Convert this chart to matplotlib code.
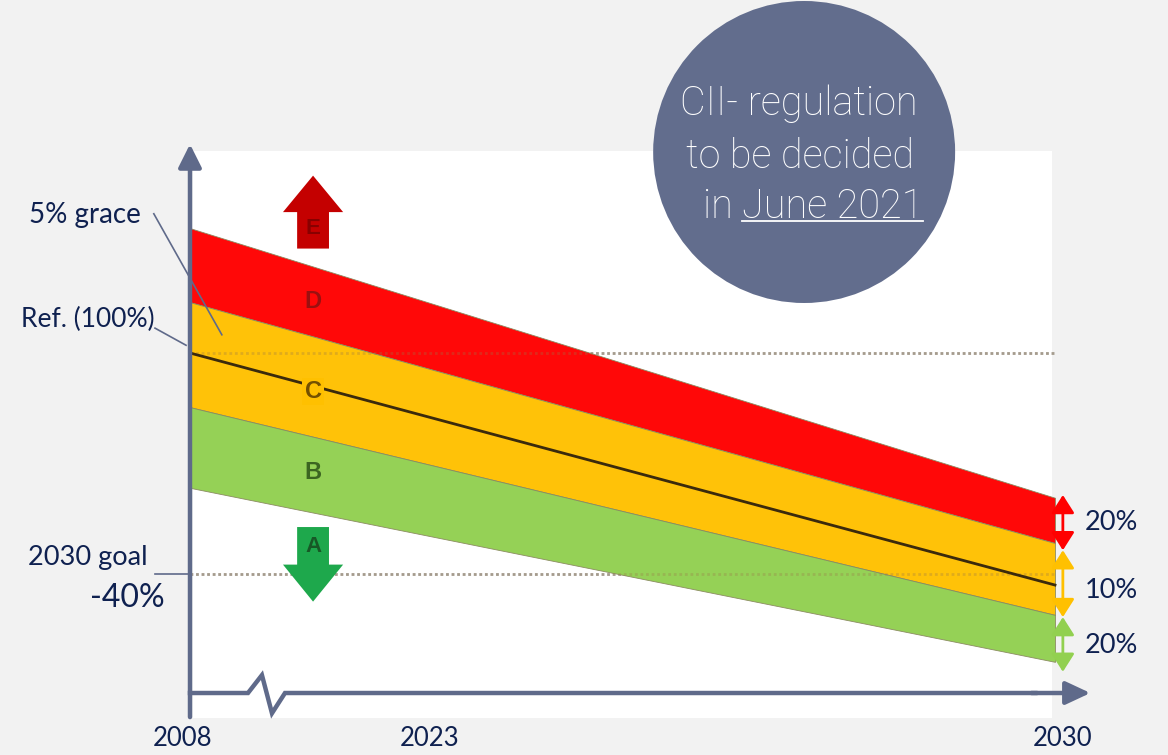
import matplotlib.pyplot as plt
from matplotlib.patches import Ellipse, Rectangle

# schematic x: years after 2008, with a break on the axis before 2023
x_ends = [0.0, 22.0]
tick_labels = ['2008', '2023', '2030']
tick_pos = [-0.2, 6.1, 22.2]

# band limits in % of the reference line, at 2008 and at 2030
band_letters = ['D', 'C', 'B']
band_upper = [[122.6, 73.8], [109.2, 65.6], [90.2, 52.6]]
band_lower = [[109.2, 65.6], [90.2, 52.6], [75.6, 44.1]]
band_colors = ['#ff0000', '#ffc000', '#92d050']
band_text_colors = ['#8a1212', '#5a3c00', '#2d5218']
letter_levels = [109.4, 93.0, 78.3]

ref_line = [100.0, 58.0]
ref_level = 100.0
goal_level = 60.0

# rating width arrows on the right (limits in % of reference) and their labels
width_bounds = [74.3, 64.3, 52.2, 42.3]
width_labels = ['20%', '10%', '20%']
width_label_levels = [69.3, 57.0, 47.0]
width_colors = ['#ff0000', '#ffc000', '#92d050']

axis_color = '#5f6a8a'
navy = '#0f2150'
font = 'Lato'
bubble_font = 'Roboto'

fig = plt.figure(figsize=(11.68, 7.55), dpi=100, facecolor='#f2f2f2')
ax = fig.add_axes([0, 0, 1, 1])
ax.set_xlim(-4.832, 24.874)
ax.set_ylim(27.24, 163.89)
ax.axis('off')

# white chart area
ax.add_patch(Rectangle((0.076, 33.94), 21.86, 102.6, fc='white', ec='none', zorder=0))

# reference and goal levels
for lvl in (ref_level, goal_level):
    ax.plot(x_ends, [lvl, lvl], color='#a8a8a8', lw=2, ls=(0, (1, 1)), zorder=1)

# rating bands
for up, lo, c in zip(band_upper, band_lower, band_colors):
    ax.fill_between(x_ends, lo, up, color=c, ec='#8a8a60', lw=0.6, alpha=0.97, zorder=2)

for lvl in (ref_level, goal_level):
    ax.plot(x_ends, [lvl, lvl], color='#a08050', lw=2, ls=(0, (1, 1)), alpha=0.3, zorder=2.5)
ax.plot(x_ends, ref_line, color='#3b2a0c', lw=2, zorder=3)

for letter, lvl, tc, bc in zip(band_letters, letter_levels, band_text_colors, band_colors):
    ax.text(3.13, lvl, letter, ha='center', va='center', fontsize=17, color=tc,
            family='Liberation Sans', weight='bold', alpha=0.85, zorder=4,
            bbox=dict(fc=bc, ec='none', pad=1.5) if letter == 'C' else None)

# E above, A below
ax.arrow(3.13, 118.9, 0, 13.2, width=0.81, head_width=1.53, head_length=6.6,
         length_includes_head=True, color='#c40000', lw=0, zorder=3)
ax.text(3.13, 122.6, 'E', ha='center', va='center', fontsize=16, color='#7a0000',
        family='Liberation Sans', weight='bold', alpha=0.8, zorder=4)
ax.arrow(3.13, 68.5, 0, -13.5, width=0.81, head_width=1.53, head_length=6.7,
         length_includes_head=True, color='#1ea84c', lw=0, zorder=3)
ax.text(3.13, 64.9, 'A', ha='center', va='center', fontsize=16, color='#164a20',
        family='Liberation Sans', weight='bold', alpha=0.85, zorder=4)

# axes with arrow heads and the break in the time axis
ax.annotate('', xy=(0, 137.8), xytext=(0, 34.1),
            arrowprops=dict(arrowstyle='-|>,head_length=0.7,head_width=0.35',
                            mutation_scale=20, lw=3.2, color=axis_color, shrinkA=0, shrinkB=0),
            zorder=5)
ax.plot([0, 1.475, 1.83, 2.085, 2.416, 21.5], [38.46, 38.46, 41.7, 34.8, 38.46, 38.46],
        color=axis_color, lw=3.2, solid_joinstyle='miter', zorder=5)
ax.annotate('', xy=(22.9, 38.46), xytext=(21.4, 38.46),
            arrowprops=dict(arrowstyle='-|>,head_length=0.75,head_width=0.35',
                            mutation_scale=20, lw=3.2, color=axis_color, shrinkA=0, shrinkB=0),
            zorder=5)

for lab, xp in zip(tick_labels, tick_pos):
    ax.text(xp, 30.3, lab, ha='center', va='center', fontsize=18.5, color=navy, family=font)

# left annotations
ax.text(-1.25, 125.0, '5% grace', ha='right', va='center', fontsize=20, color=navy, family=font)
ax.plot([-0.92, 0.81], [125.2, 103.3], color=axis_color, lw=1.2, zorder=6)
ax.text(-0.89, 106.0, 'Ref. (100%)', ha='right', va='center', fontsize=19, color=navy, family=font)
ax.plot([-0.89, -0.1], [104.5, 101.4], color=axis_color, lw=1.2, zorder=6)
ax.text(-1.09, 62.9, '2030 goal', ha='right', va='center', fontsize=19.5, color=navy, family=font)
ax.plot([-0.89, -0.05], [goal_level, goal_level], color=axis_color, lw=1.2, zorder=6)
ax.text(-0.64, 55.7, '-40%', ha='right', va='center', fontsize=23, color=navy, family=font)

# width of each rating band
for i, (lab, c) in enumerate(zip(width_labels, width_colors)):
    top, bot = width_bounds[i], width_bounds[i + 1]
    ax.annotate('', xy=(22.2, top), xytext=(22.2, bot),
                arrowprops=dict(arrowstyle='<|-|>,head_length=0.55,head_width=0.35',
                                mutation_scale=20, lw=2, color=c, shrinkA=0, shrinkB=0))
    ax.text(22.76, width_label_levels[i], lab, ha='left', va='center', fontsize=19.5,
            color=navy, family=font)

# decision bubble
ax.add_patch(Ellipse((15.62, 136.38), 7.68, 54.66, fc='#626d8d', ec='none', zorder=7))
bubble_kw = dict(va='center', fontsize=28.5, color='white', family=bubble_font,
                 weight='light', zorder=8)
ax.text(15.49, 145.1, 'CII- regulation', ha='center', **bubble_kw)
ax.text(15.52, 135.6, 'to be decided', ha='center', **bubble_kw)
t_in = ax.text(14.04, 126.5, 'in ', ha='right', **bubble_kw)
t_date = ax.text(14.04, 126.5, 'June 2021', ha='left', **bubble_kw)

fig.canvas.draw()
bb = t_date.get_window_extent().transformed(ax.transData.inverted())
ax.plot([bb.x0, bb.x1], [bb.y0 + 0.9, bb.y0 + 0.9], color='white', lw=1.3, zorder=8)

fig.savefig('out.png', dpi=100, facecolor=fig.get_facecolor())
